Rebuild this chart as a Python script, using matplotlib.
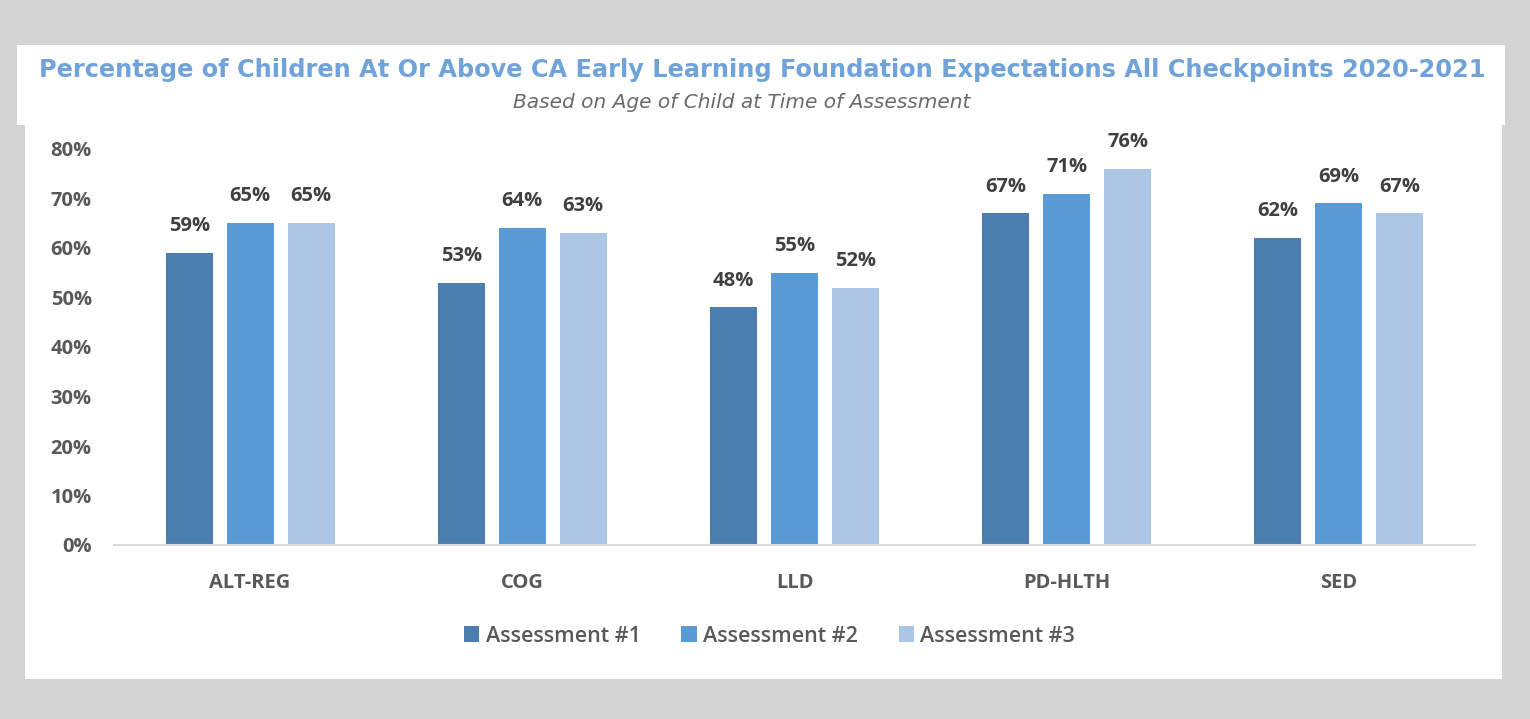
import numpy as np
import matplotlib.pyplot as plt
from matplotlib.patches import Rectangle

categories = ["ALT-REG", "COG", "LLD", "PD-HLTH", "SED"]
series = ["Assessment #1", "Assessment #2", "Assessment #3"]
a1 = [59, 53, 48, 67, 62]
a2 = [65, 64, 55, 71, 69]
a3 = [65, 63, 52, 76, 67]
colors = ["#4a7eae", "#5b9bd5", "#adc5e5"]

W, H = 1530, 719
fig = plt.figure(figsize=(W/100, H/100), dpi=100)
fig.patch.set_facecolor("#d4d4d4")

# white panels (title box + chart box)
fig.add_artist(Rectangle((17/W, 1-125/H), (1505-17)/W, (125-45)/H,
                         transform=fig.transFigure, facecolor="white", edgecolor="none", zorder=0))
fig.add_artist(Rectangle((25/W, 1-679/H), (1502-25)/W, (679-124)/H,
                         transform=fig.transFigure, facecolor="white", edgecolor="none", zorder=0))

title = fig.text(0.498, 1-70/H,
                 "Percentage of Children At Or Above CA Early Learning Foundation Expectations All Checkpoints 2020-2021",
                 ha="center", va="center", fontsize=16, fontweight="bold", color="#6fa3da",
                 family="DejaVu Sans")
sub = fig.text(0.485, 1-103/H, "Based on Age of Child at Time of Assessment",
               ha="center", va="center", fontsize=12.5, style="italic",
               color="#6a6a6a", family="DejaVu Sans")

# stretch the header texts to the width they take in the original
r = fig.canvas.get_renderer()
for t, target in [(title, 1445), (sub, 458)]:
    w = t.get_window_extent(r).width
    t.set_fontsize(t.get_fontsize() * target / w)

ax = fig.add_axes([114/W, 1-545/H, (1475-114)/W, (545-149)/H])
ax.set_facecolor("none")

x = np.arange(len(categories))
width = 0.173
pitch = 0.224
for i, (vals, c, name) in enumerate(zip([a1, a2, a3], colors, series)):
    pos = x + (i-1)*pitch
    ax.bar(pos, np.array(vals)/100, width, color=c, label=name)
    for p, v in zip(pos, vals):
        ax.text(p, v/100 + 0.034, f"{v}%", ha="center", va="bottom",
                fontsize=14.5, fontweight="bold", color="#404040", family="Open Sans",
                clip_on=False)

ax.set_xlim(-0.5, 4.5)
ax.set_ylim(0, 0.8)
ticks = np.arange(0, 0.81, 0.1)
ax.set_yticks(ticks)
ax.set_yticklabels([f"{int(round(t*100))}%" for t in ticks])
ax.set_xticks(x)
ax.set_xticklabels(categories)
for s in ["top", "right", "left"]:
    ax.spines[s].set_visible(False)
ax.spines["bottom"].set_color("#d9d9d9")
ax.spines["bottom"].set_linewidth(1.5)
ax.tick_params(axis="both", length=0, labelsize=14.5, labelcolor="#595959")
ax.tick_params(axis="y", pad=16)
ax.tick_params(axis="x", pad=20)
for lab in ax.get_xticklabels() + ax.get_yticklabels():
    lab.set_fontweight("bold")
    lab.set_family("Open Sans")

leg = fig.legend(loc="center", bbox_to_anchor=(0.503, 1-636/H), ncol=3, frameon=False,
                 handlelength=0.7, handleheight=0.7, handletextpad=0.3, columnspacing=1.9,
                 prop={"family": "Open Sans", "size": 15.5, "weight": "semibold"})
for t in leg.get_texts():
    t.set_color("#595959")

plt.savefig("out.png", dpi=100, facecolor=fig.get_facecolor())
